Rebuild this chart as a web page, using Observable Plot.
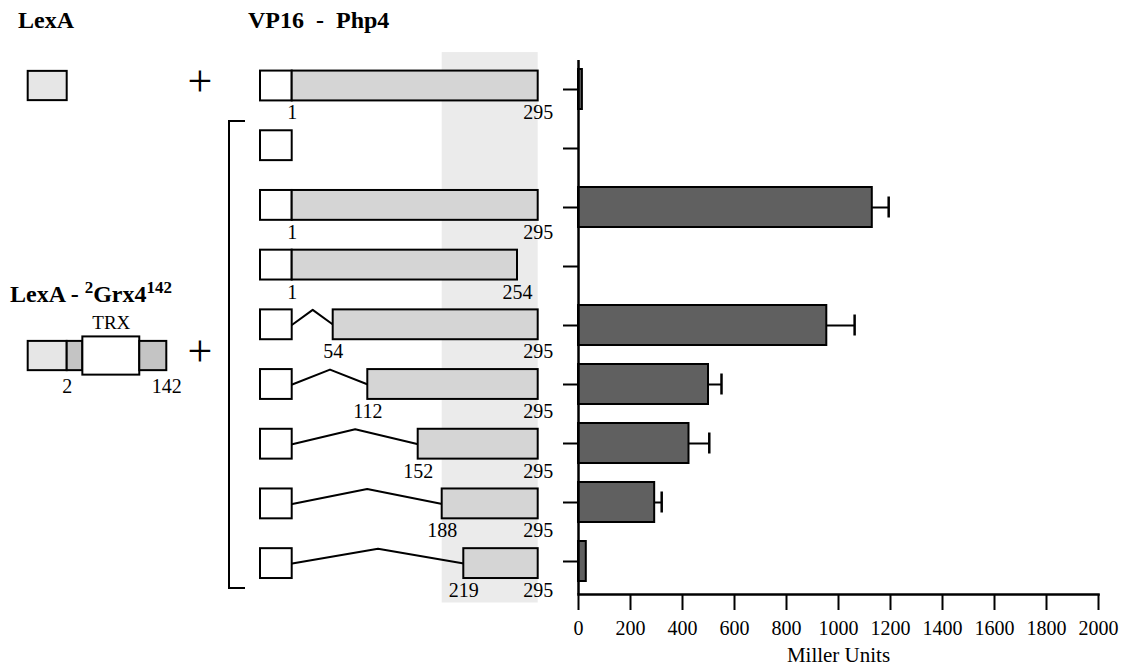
<!DOCTYPE html>
<html><head><meta charset="utf-8">
<script src="https://cdn.jsdelivr.net/npm/d3@7"></script>
<script src="https://cdn.jsdelivr.net/npm/@observablehq/plot@0.6"></script>
<style>
body{margin:0;background:#fff;}
#fig{position:relative;width:1130px;height:668px;font-family:"Liberation Serif","Times New Roman",serif;color:#000;overflow:hidden;}
#fig svg{position:absolute;left:0;top:0;}
.ttl{position:absolute;font-weight:bold;font-size:24px;line-height:24px;white-space:pre;}
.ttl sup{font-size:17px;vertical-align:0;position:relative;top:-9px;}
.plus{position:absolute;font-size:44px;line-height:44px;width:44px;text-align:center;}
.bracket{position:absolute;box-sizing:border-box;border:2px solid #000;border-right:none;}
</style></head><body><div id="fig"></div>
<script>
// ---- data ----
const rowIds = [0, 1, 2, 3, 4, 5, 6, 7, 8];
const php4Start = [1, null, 1, 1, 54, 112, 152, 188, 219];
const php4End   = [295, null, 295, 254, 295, 295, 295, 295, 295];
const millerUnits = [15, 0, 1130, 0, 955, 500, 425, 293, 30];
const millerError = [0, 0, 63, 0, 107, 50, 78, 27, 0];
const millerTicks = [0, 200, 400, 600, 800, 1000, 1200, 1400, 1600, 1800, 2000];
const residueBreaks = [1, 54, 112, 152, 188, 219, 254, 295];
const minimalRegion = [188, 295];
const grx4Parts = ["N", "TRX", "C"];
const grx4Start = [2, 24, 104];
const grx4End = [24, 104, 142];
const grx4Labels = [2, 142];

// ---- layout (scale ranges) ----
const residueRange = [291.7, 332.7, 367.3, 417.7, 441.7, 463.3, 517, 537.7];
const rowY = {type: "linear", domain: [0, 8], range: [85.5, 563.1], axis: null};
const grxRow = 4.523;
const style = {background: "transparent", overflow: "visible", fontFamily: "'Liberation Serif', 'Times New Roman', serif", fontSize: "20px", color: "black"};

const fig = document.getElementById("fig");

// ---- construct diagrams ----
const constructs = rowIds.map(i => ({row: i, start: php4Start[i], end: php4End[i]}));
const php4 = constructs.filter(d => d.start != null);
const xs = d3.scaleLinear(residueBreaks, residueRange);
const deletionPaths = php4.filter(d => d.start > 1).flatMap(d => {
  const peak = xs.invert((xs(1) + xs(d.start)) / 2);
  return [
    {row: d.row, x: 1, y: d.row},
    {row: d.row, x: peak, y: d.row - 0.25},
    {row: d.row, x: d.start, y: d.row}
  ];
});

const diagram = Plot.plot({
  width: 1130, height: 668, margin: 0, style,
  x: {type: "linear", domain: residueBreaks, range: residueRange, axis: null},
  y: rowY,
  marks: [
    Plot.rect([minimalRegion], {x1: d => d[0], x2: d => d[1], y1: () => -0.56, y2: () => 8.66, fill: "#ebebeb"}),
    Plot.line(deletionPaths, {x: "x", y: "y", z: "row", stroke: "black", strokeWidth: 2}),
    Plot.rect(constructs, {x1: () => 1, x2: () => 1, insetLeft: -31.7, y1: d => d.row - 0.25, y2: d => d.row + 0.25, fill: "white", stroke: "black", strokeWidth: 2}),
    Plot.rect(php4, {x1: "start", x2: "end", y1: d => d.row - 0.25, y2: d => d.row + 0.25, fill: "#d5d5d5", stroke: "black", strokeWidth: 2}),
    Plot.text(php4, {x: "start", y: "row", dy: 27, text: d => String(d.start), fontSize: 20}),
    Plot.text(php4, {x: "end", y: "row", dy: 27, text: d => String(d.end), fontSize: 20})
  ]
});
fig.appendChild(diagram);

// ---- LexA / Grx4 ----
const grx4 = grx4Parts.map((p, i) => ({part: p, start: grx4Start[i], end: grx4End[i]}));
const left = Plot.plot({
  width: 1130, height: 668, margin: 0, style,
  x: {type: "linear", domain: [2, 142], range: [66.7, 166.3], axis: null},
  y: rowY,
  marks: [
    Plot.rect([0, grxRow], {x1: () => 2, x2: () => 2, insetLeft: -39, y1: d => d - 0.245, y2: d => d + 0.245, fill: "#e6e6e6", stroke: "black", strokeWidth: 2}),
    Plot.rect(grx4, {x1: "start", x2: "end",
      y1: d => grxRow - (d.part === "TRX" ? 0.32 : 0.245),
      y2: d => grxRow + (d.part === "TRX" ? 0.32 : 0.245),
      fill: d => d.part === "TRX" ? "white" : "#c4c4c4", stroke: "black", strokeWidth: 2}),
    Plot.text(grx4Labels, {x: d => d, y: () => grxRow, dy: 31, text: d => String(d), fontSize: 20}),
    Plot.text(grx4.filter(d => d.part === "TRX"), {x: d => (d.start + d.end) / 2, y: () => grxRow, dy: -33, text: "part", fontSize: 19})
  ]
});
fig.appendChild(left);

// ---- bar chart ----
const bars = rowIds.map(i => ({row: i, v: millerUnits[i], err: millerError[i]}));
const withErr = bars.filter(d => d.err > 0);
const barPlot = Plot.plot({
  width: 1130, height: 668, style,
  marginTop: 60, marginBottom: 74, marginLeft: 578, marginRight: 32,
  x: {type: "linear", domain: [0, 2000], range: [578, 1098]},
  y: {type: "band", domain: rowIds, range: [45.8, 602.8], padding: 0.33},
  marks: [
    Plot.ruleY(withErr, {y: "row", x1: "v", x2: d => d.v + d.err, stroke: "black", strokeWidth: 2}),
    Plot.tickX(withErr, {y: "row", x: d => d.v + d.err, stroke: "black", strokeWidth: 2.5, inset: 9.5}),
    Plot.barX(bars.filter(d => d.v > 0), {y: "row", x: "v", fill: "#606060", stroke: "black", strokeWidth: 2}),
    Plot.axisY({tickSize: 15, tickFormat: () => "", strokeWidth: 2, label: null}),
    Plot.ruleX([0], {stroke: "black", strokeWidth: 2.5}),
    Plot.axisX(millerTicks, {tickSize: 16, tickPadding: 10, fontSize: 20, strokeWidth: 2, label: null, tickFormat: d => String(d)}),
    Plot.frame({anchor: "bottom", stroke: "black", strokeWidth: 2.5}),
    Plot.text(["Miller Units"], {frameAnchor: "bottom", lineAnchor: "middle", dy: 61, fontSize: 21})
  ]
});
fig.appendChild(barPlot);

// ---- annotations ----
function addDiv(cls, html, css) {
  const el = document.createElement("div");
  el.className = cls; el.innerHTML = html;
  Object.assign(el.style, css);
  fig.appendChild(el);
}
addDiv("ttl", "LexA", {left: "18px", top: "8px"});
addDiv("ttl", "VP16  -  Php4", {left: "248px", top: "8px"});
addDiv("ttl", "LexA - <sup>2</sup>Grx4<sup>142</sup>", {left: "10px", top: "282px"});
addDiv("plus", "+", {left: "178px", top: "60px"});
addDiv("plus", "+", {left: "178px", top: "330px"});
addDiv("bracket", "", {left: "228px", top: "120px", width: "17px", height: "469px"});
</script></body></html>
